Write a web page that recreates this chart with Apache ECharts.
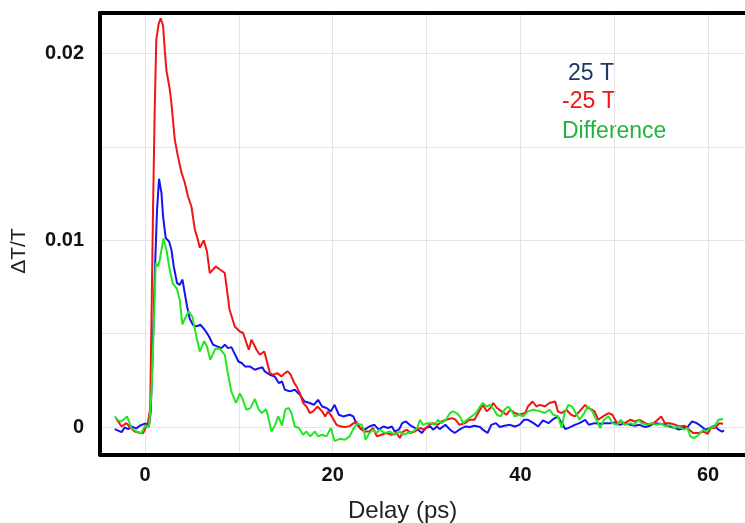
<!DOCTYPE html>
<html>
<head>
<meta charset="utf-8">
<script src="https://cdn.jsdelivr.net/npm/echarts@6/dist/echarts.min.js"></script>
<style>html,body{margin:0;padding:0;background:#fff}#c{width:745px;height:523px}</style>
</head>
<body>
<div id="c"></div>
<script>
// Delay (ps) / ΔT/T pairs
const plus25T = [
[-3.23,-0.00011],[-2.5,-0.00027],[-2.16,-0.00002],[-1.8,-0.00011],[-1.45,0.00003],[-0.92,-0.00007],[-0.57,0.00007],[-0.03,0.00018],[0.43,0.00016],[0.6,0.0008],[0.79,0.0036],[1.03,0.00807],[1.28,0.01164],[1.49,0.0133],[1.75,0.01254],[1.92,0.01128],[2.2,0.01013],[2.56,0.00994],[2.81,0.0095],[3.06,0.0086],[3.41,0.00771],[3.7,0.00762],[3.99,0.0079],[4.23,0.00718],[4.48,0.00646],[4.76,0.0058],[5.12,0.00546],[5.48,0.00539],[5.9,0.00548],[6.36,0.00521],[6.82,0.00485],[7.25,0.00441],[7.68,0.00432],[8.14,0.00423],[8.5,0.00441],[8.85,0.00423],[9.2,0.00428],[9.56,0.00392],[9.95,0.00351],[10.3,0.00343],[10.65,0.00325],[11.16,0.00325],[11.7,0.00307],[12.23,0.00316],[12.5,0.00321],[12.76,0.00298],[13.3,0.0028],[13.82,0.00271],[14.25,0.00236],[14.6,0.00244],[14.9,0.002],[15.43,0.00191],[15.96,0.002],[16.5,0.00173],[17.0,0.00137],[17.56,0.00129],[18.0,0.00119],[18.44,0.00146],[18.87,0.0011],[19.34,0.00102],[19.8,0.00084],[20.2,0.00119],[20.65,0.00066],[21.1,0.00057],[21.8,0.00066],[22.2,0.00057],[22.5,0.00021],[22.9,-0.00005],[23.4,-0.00014],[23.9,0.00003],[24.45,0.00012],[24.9,-0.00014],[25.4,0.00003],[25.9,-0.00005],[26.3,0.00003],[26.6,-0.00024],[27.1,-0.00011],[27.4,0.00021],[27.8,0.0003],[28.2,0.00012],[28.6,0.0],[29.1,-0.00014],[29.5,-0.00032],[29.9,-0.00005],[30.4,0.00003],[30.7,-0.00014],[31.1,0.00003],[31.4,-0.00011],[32.0,0.00012],[32.5,-0.00014],[33.0,-0.00032],[33.5,-0.00014],[34.1,0.00003],[34.6,0.0],[35.1,0.00007],[35.7,0.0],[36.0,-0.00014],[36.5,-0.00032],[36.9,0.00012],[37.4,0.00021],[37.8,0.0],[38.3,0.00007],[38.9,0.00012],[39.4,0.00003],[39.9,0.00012],[40.4,0.00039],[40.8,0.00039],[41.4,0.00021],[41.9,0.00003],[42.4,0.00036],[43.0,0.00021],[43.5,0.00043],[44.0,0.00057],[44.4,0.00021],[44.8,-0.00011],[45.3,0.0],[45.8,0.00012],[46.3,0.00021],[46.9,0.00039],[47.3,0.00012],[47.9,0.00021],[48.5,0.00018],[49.0,0.00021],[49.6,0.00021],[50.1,0.00025],[50.6,0.00012],[51.1,0.00021],[51.7,0.00012],[52.2,0.00007],[52.7,0.00012],[53.3,0.0],[53.8,0.00007],[54.3,0.00021],[54.9,0.00018],[55.4,0.00012],[55.9,0.00003],[56.5,-0.00005],[56.9,-0.00014],[57.4,-0.00005],[57.8,0.0],[58.3,0.0003],[58.8,0.00021],[59.3,0.00003],[59.7,-0.00014],[60.2,-0.00005],[60.7,0.00007],[61.1,-0.00014],[61.5,-0.00024],[61.7,-0.00018]
];
const minus25T = [
[-3.1,0.00048],[-2.5,0.00003],[-2.0,0.00021],[-1.5,-0.00005],[-1.1,-0.00024],[-0.6,-0.0003],[-0.2,-0.00032],[0.3,0.00021],[0.55,0.001],[0.85,0.0116],[1.03,0.017],[1.2,0.02075],[1.45,0.0216],[1.67,0.0219],[1.92,0.0215],[2.1,0.0202],[2.28,0.0191],[2.63,0.0181],[2.8,0.0174],[3.17,0.0154],[3.5,0.0145],[3.9,0.0136],[4.23,0.0131],[4.58,0.01235],[4.95,0.0118],[5.3,0.0106],[5.65,0.01],[5.83,0.0096],[6.26,0.01],[6.6,0.0094],[6.9,0.00825],[7.54,0.0086],[8.1,0.0084],[8.5,0.00825],[9.0,0.0063],[9.56,0.00539],[10.1,0.00512],[10.45,0.00504],[10.81,0.0045],[11.06,0.00414],[11.34,0.00468],[11.88,0.00414],[12.23,0.00387],[12.7,0.00405],[12.94,0.0036],[13.3,0.00289],[13.65,0.0028],[14.1,0.00289],[14.54,0.00271],[14.9,0.00289],[15.2,0.00298],[15.53,0.0028],[15.9,0.00236],[16.14,0.00218],[16.5,0.00182],[16.85,0.00129],[17.2,0.0011],[17.56,0.00075],[17.9,0.00084],[18.38,0.0011],[18.87,0.00084],[19.2,0.00057],[19.5,0.00084],[19.9,0.00057],[20.4,0.00012],[20.9,0.00003],[21.3,0.0],[21.8,0.00005],[22.25,0.00021],[22.5,0.0003],[23.0,-0.00011],[23.4,-0.00024],[23.9,-0.00024],[24.3,-0.00005],[24.7,-0.0005],[25.2,-0.00041],[25.7,-0.00032],[26.3,-0.00041],[26.8,-0.00032],[27.15,-0.00059],[27.5,-0.00024],[27.9,-0.00014],[28.3,-0.00032],[28.75,-0.00024],[29.3,-0.00005],[29.8,-0.00014],[30.3,0.00012],[30.7,0.00021],[31.2,0.00012],[31.6,0.0003],[32.1,0.00039],[32.7,0.00048],[33.1,0.00039],[33.5,0.00012],[34.1,0.00021],[34.6,0.00039],[35.1,0.00039],[35.6,0.00084],[36.0,0.00119],[36.4,0.00084],[36.8,0.00102],[37.1,0.00129],[37.5,0.00102],[38.0,0.00084],[38.5,0.00066],[38.95,0.00093],[39.4,0.00075],[39.9,0.00066],[40.5,0.00075],[40.8,0.0011],[41.3,0.00137],[41.7,0.0011],[42.1,0.00119],[42.6,0.0011],[43.1,0.00129],[43.7,0.00137],[44.0,0.00084],[44.4,0.00075],[44.9,0.00093],[45.4,0.00066],[45.8,0.00057],[46.3,0.00084],[46.9,0.00119],[47.2,0.00102],[47.6,0.00093],[47.9,0.00084],[48.3,0.00039],[48.8,0.00057],[49.4,0.00075],[49.8,0.00066],[50.3,0.00021],[50.7,0.0003],[51.1,0.00021],[51.7,0.00039],[52.2,0.0003],[52.7,0.00039],[53.3,0.00021],[53.8,0.00012],[54.3,0.00025],[55.0,0.00057],[55.4,0.00021],[55.9,0.00021],[56.5,0.00012],[57.0,0.00003],[57.5,0.00007],[58.0,-0.00014],[58.4,-0.00032],[59.0,-0.00032],[59.5,-0.00024],[59.96,-0.00036],[60.3,-0.00005],[60.7,-0.00005],[61.2,0.00021],[61.6,0.00018]
];
const difference = [
[-3.23,0.00057],[-2.87,0.00036],[-2.52,0.0003],[-2.2,0.00045],[-1.92,0.00057],[-1.45,-0.00005],[-0.92,-0.00024],[-0.38,-0.00032],[0.0,0.00007],[0.43,0.0],[0.68,0.00182],[0.93,0.00539],[1.14,0.00879],[1.39,0.0086],[1.57,0.00896],[1.95,0.0101],[2.28,0.0095],[2.56,0.0086],[2.95,0.0077],[3.4,0.0074],[3.7,0.0068],[3.98,0.0055],[4.34,0.0059],[4.65,0.0062],[5.05,0.0059],[5.45,0.0049],[5.83,0.00405],[6.3,0.0046],[6.61,0.0043],[6.95,0.0036],[7.5,0.0042],[7.96,0.0042],[8.5,0.00387],[8.85,0.0028],[9.2,0.0019],[9.7,0.0013],[10.1,0.0018],[10.4,0.0015],[10.8,0.00093],[11.2,0.001],[11.7,0.0015],[12.12,0.00093],[12.45,0.00075],[12.9,0.00095],[13.1,0.0006],[13.47,-0.00024],[13.85,0.0001],[14.2,0.00057],[14.6,0.00008],[14.95,0.00095],[15.3,0.00102],[15.6,0.00075],[15.96,0.00003],[16.4,-0.00005],[16.84,-0.00041],[17.2,-0.00024],[17.6,-0.0005],[18.1,-0.00024],[18.44,-0.0005],[18.87,-0.00041],[19.34,-0.0005],[19.8,-0.00005],[20.2,-0.00075],[20.75,-0.00063],[21.3,-0.00068],[21.8,-0.0005],[22.25,-0.00005],[22.6,0.00018],[23.1,0.00012],[23.3,-0.00014],[23.5,-0.00068],[23.9,-0.00032],[24.3,-0.00014],[24.7,-0.00032],[25.0,-0.00014],[25.55,-0.00032],[26.1,-0.00024],[26.6,-0.00041],[27.15,-0.00024],[27.5,-0.00041],[28.0,-0.00032],[28.6,-0.00024],[29.0,-0.00005],[29.3,0.00039],[29.6,0.00012],[30.1,0.00021],[30.5,0.00021],[30.9,0.00012],[31.2,0.00039],[31.6,0.00021],[32.06,0.00039],[32.5,0.00075],[32.8,0.00084],[33.2,0.00075],[33.55,0.00057],[33.9,0.00021],[34.3,0.00039],[34.8,0.00057],[35.26,0.00075],[35.7,0.0011],[36.0,0.00129],[36.4,0.0011],[36.75,0.00119],[37.2,0.00093],[37.5,0.00066],[37.9,0.00057],[38.3,0.00093],[38.7,0.0011],[39.1,0.00084],[39.4,0.00057],[39.9,0.00066],[40.3,0.00057],[40.8,0.00084],[41.4,0.00093],[41.6,0.00102],[42.1,0.00084],[42.6,0.00075],[43.1,0.00093],[43.5,0.00066],[44.0,0.00057],[44.4,-0.00005],[44.7,0.00075],[45.1,0.00119],[45.5,0.0011],[45.9,0.00075],[46.3,0.00039],[46.8,0.00075],[47.2,0.0011],[47.65,0.00084],[48.1,0.00039],[48.5,-0.00005],[48.9,0.00039],[49.4,0.00057],[49.8,0.00021],[50.3,0.00012],[50.7,0.00039],[51.1,0.00012],[51.7,0.00021],[52.1,0.00012],[52.6,0.00039],[52.9,0.00021],[53.45,0.00012],[54.0,0.00021],[54.5,0.00012],[55.0,0.00018],[55.5,0.00003],[55.9,0.00012],[56.4,-0.00005],[56.9,0.00003],[57.4,-0.00014],[57.8,-0.00005],[58.1,-0.0005],[58.5,-0.00059],[59.0,-0.00041],[59.5,-0.00014],[59.8,-0.00024],[60.2,-0.00005],[60.7,0.00003],[61.1,0.00039],[61.6,0.00043]
];
const seriesNames = ['25 T', '-25 T', 'Difference'];
const xTickLabels = [0, 20, 40, 60];
const yTickLabels = [0, 0.01, 0.02];
const xTitle = 'Delay (ps)';
const yTitle = 'ΔT/T';

const chart = echarts.init(document.getElementById('c'), null, {renderer: 'canvas'});
const FONT = 'Liberation Sans, Arial, sans-serif';
const X_MIN = -4.8, X_MAX = 65;
const lineSeries = (name, data, color) => ({
  name, type: 'line', data, showSymbol: false, symbol: 'none',
  lineStyle: {color, width: 2}, itemStyle: {color}, animation: false
});
const frameLine = () => ({show: true, onZero: false, lineStyle: {color: '#000', width: 4}});
chart.setOption({
  animation: false,
  backgroundColor: '#fff',
  grid: {left: 100, top: 13, width: 655, height: 441.5, outerBoundsMode: 'none', containLabel: false},
  xAxis: [{
    type: 'value', min: X_MIN, max: X_MAX, minInterval: 10, maxInterval: 10,
    position: 'bottom',
    axisLine: frameLine(), axisTick: {show: false},
    splitLine: {show: true, lineStyle: {color: '#e4e4e4', width: 1}},
    axisLabel: {
      margin: 11, fontSize: 20, fontWeight: 'bold', color: '#111', fontFamily: FONT,
      formatter: v => xTickLabels.some(t => Math.abs(t - v) < 1e-6) ? String(Math.round(v)) : ''
    }
  }, {
    type: 'value', min: X_MIN, max: X_MAX, position: 'top',
    axisLine: frameLine(), axisTick: {show: false}, axisLabel: {show: false}, splitLine: {show: false}
  }],
  yAxis: {
    type: 'value', min: -0.00147, max: 0.02218, minInterval: 0.005, maxInterval: 0.005,
    axisLine: frameLine(), axisTick: {show: false},
    splitLine: {show: true, lineStyle: {color: '#e4e4e4', width: 1}},
    axisLabel: {
      margin: 16, fontSize: 20, fontWeight: 'bold', color: '#111', fontFamily: FONT,
      formatter: v => {
        const m = yTickLabels.find(t => Math.abs(t - v) < 1e-9);
        return m === undefined ? '' : String(m);
      }
    }
  },
  series: [
    lineSeries(seriesNames[0], plus25T, '#1414f0'),
    lineSeries(seriesNames[1], minus25T, '#f01414'),
    lineSeries(seriesNames[2], difference, '#22e622')
  ],
  graphic: [
    {type: 'text', left: 568, top: 62, style: {text: seriesNames[0], fill: '#1f3864', font: '23px ' + FONT}},
    {type: 'text', left: 562, top: 90, style: {text: seriesNames[1], fill: '#f01414', font: '23px ' + FONT}},
    {type: 'text', left: 562, top: 120, style: {text: seriesNames[2], fill: '#1fb43f', font: '23px ' + FONT}},
    {type: 'text', left: 348, top: 499, style: {text: xTitle, fill: '#222', font: '24px ' + FONT}},
    {type: 'text', x: 19, y: 251, rotation: Math.PI / 2,
     style: {text: yTitle, fill: '#222', font: '21px ' + FONT, textAlign: 'center', textVerticalAlign: 'middle'}}
  ]
});
</script>
</body>
</html>
